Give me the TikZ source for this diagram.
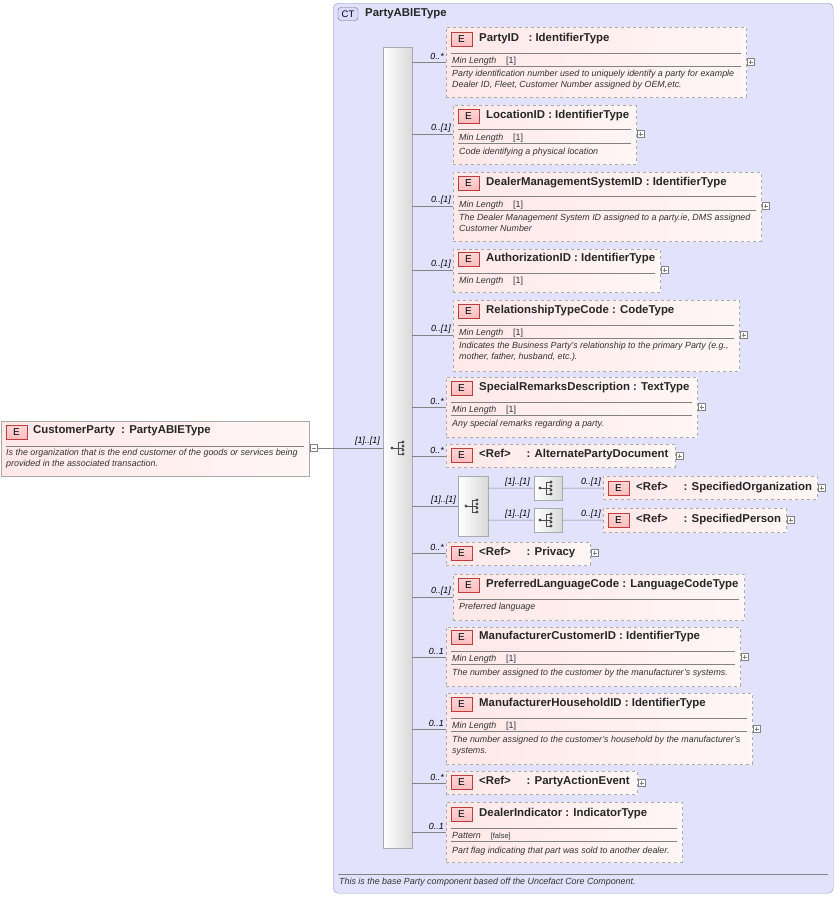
\documentclass[tikz,border=0pt]{standalone}
\usepackage{fontspec}
\setmainfont{Liberation Sans}
\usetikzlibrary{calc}
\begin{document}
\definecolor{ctbg}{RGB}{226,226,252}
\definecolor{ctbd}{RGB}{150,150,190}
\definecolor{elbg}{RGB}{255,232,232}
\definecolor{elbd}{RGB}{170,170,170}
\definecolor{badge}{RGB}{250,190,190}
\definecolor{badgebd}{RGB}{190,60,60}
\definecolor{ln}{RGB}{130,130,130}
\begin{tikzpicture}[x=1pt,y=-1pt,
  elb/.style={draw=elbd,dashed,line width=0.8pt,rectangle,inner sep=0pt,anchor=north west,left color=elbg,right color=white!60!elbg},
  ttl/.style={anchor=west,font=\fontsize{11.4}{12}\selectfont\bfseries,inner sep=0pt,text=black!85},
  sm/.style={anchor=west,font=\fontsize{8.9}{10.5}\selectfont\itshape,inner sep=0pt,text=black!80},
  card/.style={anchor=east,font=\fontsize{8.9}{10}\selectfont\itshape,inner sep=0pt},
  con/.style={draw=ln,line width=0.5pt}]
\useasboundingbox (0,0) rectangle (837,897);
\newcommand\badge[2]{\node[draw=badgebd,top color=white!40!badge,bottom color=badge,minimum width=21pt,minimum height=14pt,inner sep=0pt,font=\fontsize{10}{10}\selectfont] at (#1+10.5,#2) {E};}
\newcommand\el[7]{% name x1 y1 x2 y2 titley title
  \node[elb,minimum width={(#4-#2)*1pt},minimum height={(#5-#3)*1pt}] (#1) at (#2,#3) {};
  \badge{#2+5}{#6}
  \node[ttl] at (#2+33,#6) {#7};}
\newcommand\sep[3]{\draw[ln,line width=0.5pt] (#1+5,#3) -- (#2-5,#3);}
\newcommand\facet[3]{\node[sm] at (#1+6,#2) {#3};}
\newcommand\plus[2]{\draw[ln,fill=white,line width=0.4pt] (#1+1,#2-3.5) rectangle (#1+8,#2+3.5); \draw[ln,line width=0.4pt] (#1+2.5,#2)--(#1+6.5,#2) (#1+4.5,#2-2)--(#1+4.5,#2+2);}
\newcommand\seqicon[2]{\fill[black!70] (#1-6,#2) circle (1.6pt); \draw[black!70,line width=0.7pt] (#1-6,#2)--(#1,#2) (#1,#2-6)--(#1,#2+6) (#1,#2-6)--(#1+5,#2-6) (#1,#2)--(#1+5,#2) (#1,#2+6)--(#1+5,#2+6) ; \foreach \d in {-6,-2,2,6}{\fill[black!70] (#1+5,#2+\d) circle (1.6pt);}}
% CT
\node[draw=ctbd,fill=ctbg,rounded corners=5pt,minimum width=500pt,minimum height=890pt,anchor=north west,inner sep=0pt] (ct) at (333,3) {};
\node[draw=ctbd!70!black,fill=ctbg!60!blue!30,rounded corners=3pt,minimum width=20pt,minimum height=13pt,inner sep=0pt,font=\fontsize{9.5}{10}\selectfont] at (348,14) {CT};
\node[ttl] at (365,14) {PartyABIEType};
\draw[ln,line width=0.5pt] (338,874) -- (828,874);
\node[sm] at (339,882) {This is the base Party component based off the Uncefact Core Component.};
% sequence bar
\node[draw=elbd,left color=white,right color=black!15,minimum width=29pt,minimum height=801pt,anchor=north west,inner sep=0pt] (seq) at (383,47) {};
\seqicon{398}{448}
% customer party
\node[draw=elbd,line width=0.8pt,anchor=north west,inner sep=0pt,minimum width=308pt,minimum height=55pt,left color=elbg,right color=white!60!elbg] (cp) at (1,421) {};
\badge{6}{432}
\node[ttl] at (33,431) {CustomerParty\ \ : PartyABIEType};
\draw[ln,line width=0.5pt] (6,446)--(304,446);
\node[sm,align=left,anchor=north west] at (6,449) {Is the organization that is the end customer of the goods or services being\\provided in the associated transaction.};
\draw[ln,fill=white,line width=0.4pt] (310,444.5) rectangle (317,451.5); \draw[ln] (311.5,448)--(315.5,448);
\draw[con] (317,448) -- (seq.west |- 0,448);
\node[card] at (380,441) {[1]..[1]};
% children
\newcommand\conn[3]{\draw[con] (seq.east |- 0,#2) -- (#1.west |- 0,#2); \node[card] at ($(#1.west |- 0,#2)+(-2,-6)$) {#3};}
\el{a}{446}{27}{746}{97}{39}{PartyID\ \ \ : IdentifierType}
\sep{446}{746}{53}\facet{446}{61}{Min Length\ \ \ \ {\upshape [1]}}\sep{446}{746}{66}
\node[sm,anchor=north west,align=left] at (452,70) {Party identification number used to uniquely identify a party for example\\Dealer ID, Fleet, Customer Number assigned by OEM,etc.};
\plus{746}{62}
\el{b}{453}{105}{636}{164}{116}{LocationID\ : IdentifierType}
\sep{453}{636}{129}\facet{453}{138}{Min Length\ \ \ \ {\upshape [1]}}\sep{453}{636}{143}
\node[sm] at (459,152) {Code identifying a physical location};
\plus{636}{134}
\el{c}{453}{172}{761}{241}{183}{DealerManagementSystemID\ : IdentifierType}
\sep{453}{761}{196}\facet{453}{205}{Min Length\ \ \ \ {\upshape [1]}}\sep{453}{761}{210}
\node[sm,anchor=north west,align=left] at (459,214) {The Dealer Management System ID assigned to a party.ie, DMS assigned\\Customer Number};
\plus{761}{206}
\el{d}{453}{249}{660}{292}{259}{AuthorizationID\ : IdentifierType}
\sep{453}{660}{273}\facet{453}{281}{Min Length\ \ \ \ {\upshape [1]}}
\plus{660}{270}
\el{e}{453}{300}{739}{371}{311}{RelationshipTypeCode\ : CodeType}
\sep{453}{739}{325}\facet{453}{333}{Min Length\ \ \ \ {\upshape [1]}}\sep{453}{739}{338}
\node[sm,anchor=north west,align=left] at (459,342) {Indicates the Business Party's relationship to the primary Party (e.g.,\\mother, father, husband, etc.).};
\plus{739}{335}
\el{f}{446}{377}{697}{437}{388}{SpecialRemarksDescription\ : TextType}
\sep{446}{697}{402}\facet{446}{410}{Min Length\ \ \ \ {\upshape [1]}}\sep{446}{697}{415}
\node[sm] at (452,424) {Any special remarks regarding a party.};
\plus{697}{407}
\el{g}{446}{444}{675}{467}{455}{<Ref>\ \ \ \ \ : AlternatePartyDocument}
\plus{675}{456}
% choice
\node[draw=elbd,left color=white,right color=black!15,minimum width=30pt,minimum height=60pt,anchor=north west,inner sep=0pt] (ch) at (458,476) {};
\seqicon{472}{506}
\node[draw=elbd,left color=white,right color=black!15,minimum width=28pt,minimum height=24pt,anchor=north west,inner sep=0pt] (s1) at (534,476) {};
\node[draw=elbd,left color=white,right color=black!15,minimum width=28pt,minimum height=24pt,anchor=north west,inner sep=0pt] (s2) at (534,508) {};
\seqicon{546}{488}\seqicon{546}{520}
\el{h1}{603}{476}{817}{499}{488}{<Ref>\ \ \ \ \ : SpecifiedOrganization}
\plus{817}{488}
\el{h2}{603}{508}{786}{532}{520}{<Ref>\ \ \ \ \ : SpecifiedPerson}
\plus{786}{520}
\draw[con] (ch.east |- 0,488) -- (s1.west); \node[card] at (530,482) {[1]..[1]};
\draw[con] (ch.east |- 0,520) -- (s2.west); \node[card] at (530,514) {[1]..[1]};
\draw[con] (s1.east) -- (h1.west |- 0,488); \node[card] at (601,482) {0..[1]};
\draw[con] (s2.east) -- (h2.west |- 0,520); \node[card] at (601,514) {0..[1]};
\el{i}{446}{542}{590}{565}{553}{<Ref>\ \ \ \ \ : Privacy}
\plus{590}{553}
\el{j}{453}{574}{744}{620}{585}{PreferredLanguageCode\ : LanguageCodeType}
\sep{453}{744}{599}\node[sm] at (459,607) {Preferred language};
\el{k}{446}{627}{740}{686}{637}{ManufacturerCustomerID\ : IdentifierType}
\sep{446}{740}{651}\facet{446}{659}{Min Length\ \ \ \ {\upshape [1]}}\sep{446}{740}{664}
\node[sm] at (452,673) {The number assigned to the customer by the manufacturer's systems.};
\plus{740}{657}
\el{l}{446}{693}{752}{764}{704}{ManufacturerHouseholdID\ : IdentifierType}
\sep{446}{752}{718}\facet{446}{726}{Min Length\ \ \ \ {\upshape [1]}}\sep{446}{752}{731}
\node[sm,anchor=north west,align=left] at (452,736) {The number assigned to the customer's household by the manufacturer's\\systems.};
\plus{752}{729}
\el{m}{446}{771}{637}{794}{782}{<Ref>\ \ \ \ \ : PartyActionEvent}
\plus{637}{783}
\el{n}{446}{802}{682}{862}{814}{DealerIndicator\ : IndicatorType}
\sep{446}{682}{828}\facet{446}{836}{Pattern\ \ \ \ {\upshape\fontsize{7.5}{8}\selectfont [false]}}\sep{446}{682}{841}
\node[sm] at (452,851) {Part flag indicating that part was sold to another dealer.};
% connectors
\conn{a}{62}{0..*}
\conn{b}{134}{0..[1]}
\conn{c}{206}{0..[1]}
\conn{d}{270}{0..[1]}
\conn{e}{335}{0..[1]}
\conn{f}{407}{0..*}
\conn{g}{456}{0..*}
\conn{ch}{506}{[1]..[1]}
\conn{i}{553}{0..*}
\conn{j}{597}{0..[1]}
\conn{k}{657}{0..1}
\conn{l}{729}{0..1}
\conn{m}{783}{0..*}
\conn{n}{832}{0..1}
\end{tikzpicture}
\end{document}
